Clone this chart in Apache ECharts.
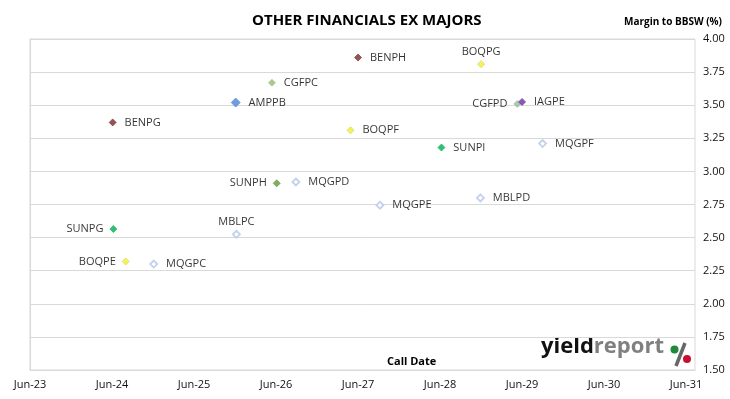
<!DOCTYPE html>
<html>
<head>
<meta charset="utf-8">
<script src="https://cdn.jsdelivr.net/npm/echarts@6/dist/echarts.min.js"></script>
<style>html,body{margin:0;padding:0;background:#fff;}#c{width:730px;height:399px;}</style>
</head>
<body>
<div id="c"></div>
<script>
// ---- data ----
const names = ['BENPH','BOQPG','CGFPC','AMPPB','BENPG','BOQPF','CGFPD','IAGPE','SUNPI','MQGPF','SUNPH','MQGPD','MBLPD','MQGPE','SUNPG','MBLPC','BOQPE','MQGPC'];
const callDates = ['2027-06-01','2028-12-01','2026-05-13','2025-12-04','2024-06-04','2027-04-28','2029-05-10','2029-06-01','2028-06-07','2029-09-01','2026-06-04','2026-08-28','2028-11-28','2027-09-07','2024-06-07','2025-12-07','2024-08-01','2024-12-04'];
const margins = [3.86,3.81,3.67,3.52,3.37,3.31,3.51,3.525,3.18,3.21,2.91,2.92,2.80,2.745,2.565,2.525,2.32,2.30];
const xTickLabels = ['Jun-23','Jun-24','Jun-25','Jun-26','Jun-27','Jun-28','Jun-29','Jun-30','Jun-31'];

// ---- styles (not data) ----
const styleMap = {
  BENPH:{c:'#7B2A2A',b:'#7B2A2A',s:7},
  BENPG:{c:'#7B2A2A',b:'#7B2A2A',s:7},
  BOQPG:{c:'#F4F41C',b:'#C8C88A',s:7,pos:'top'},
  BOQPF:{c:'#F4F41C',b:'#C8C88A',s:7},
  BOQPE:{c:'#F4F41C',b:'#C8C88A',s:7,pos:'left'},
  CGFPC:{c:'#9BBB59',b:'#A9BCC9',s:7},
  CGFPD:{c:'#9BBB8A',b:'#93AFCB',s:7,pos:'left'},
  AMPPB:{c:'#4A86D6',b:'#4A86D6',s:9},
  IAGPE:{c:'#7030A0',b:'#7030A0',s:7},
  SUNPI:{c:'#00B050',b:'#00B050',s:7},
  SUNPG:{c:'#00B050',b:'#00B050',s:7,pos:'left'},
  SUNPH:{c:'#5F9A3C',b:'#5F9A3C',s:7,pos:'left'},
  MQGPF:{c:'#FFFFFF',b:'#B4C6E7',s:7,hollow:true},
  MQGPD:{c:'#FFFFFF',b:'#B4C6E7',s:7,hollow:true},
  MQGPE:{c:'#FFFFFF',b:'#B4C6E7',s:7,hollow:true},
  MQGPC:{c:'#FFFFFF',b:'#B4C6E7',s:7,hollow:true},
  MBLPD:{c:'#FFFFFF',b:'#B4C6E7',s:7,hollow:true},
  MBLPC:{c:'#FFFFFF',b:'#B4C6E7',s:7,hollow:true,pos:'top'}
};
const distByPos = {right:8, left:6, top:3};

// months since Jun-2023
function monthOffset(d){
  const [y,m,dd] = d.split('-').map(Number);
  return (y-2023)*12 + (m-6) + (dd-1)/30;
}

const FONT = '"Open Sans", "DejaVu Sans", sans-serif';
const data = names.map((n,i)=>{
  const st = styleMap[n];
  const pos = st.pos||'right';
  return {
    name:n,
    value:[monthOffset(callDates[i]), margins[i]],
    symbolSize: st.s,
    itemStyle:{color:st.c, borderColor:st.b, borderWidth: st.hollow?1.8:0.8},
    label:{position:pos, distance:distByPos[pos]}
  };
});

const chart = echarts.init(document.getElementById('c'), null, {renderer:'canvas'});
chart.setOption({
  animation:false,
  backgroundColor:'#fff',
  title:[
    {text:'OTHER FINANCIALS EX MAJORS', left:247, top:8, textStyle:{fontFamily:FONT, fontSize:15, fontWeight:'bold', color:'#000'}},
    {text:'Margin to BBSW (%)', right:3, top:12, textStyle:{fontFamily:FONT, fontSize:10, fontWeight:'bold', color:'#000'}}
  ],
  grid:{left:30, right:35, top:39, bottom:29, show:true, borderColor:'#D9D9D9', borderWidth:1},
  xAxis:{
    type:'value', min:0, max:97.3, interval:12,
    axisLine:{show:true, lineStyle:{color:'#D9D9D9'}},
    axisTick:{show:false},
    splitLine:{show:false},
    axisLabel:{margin:9, color:'#111', fontFamily:FONT, fontSize:11,
      showMaxLabel:false,
      formatter:(v)=>{const k=Math.round(v/12); return (Math.abs(v-k*12)<0.01)?xTickLabels[k]:'';}}
  },
  yAxis:{
    type:'value', position:'right', min:1.5, max:4.0, interval:0.25,
    axisLine:{show:true, lineStyle:{color:'#D9D9D9'}},
    axisTick:{show:true, inside:false, length:3, lineStyle:{color:'#D9D9D9'}},
    splitLine:{show:true, lineStyle:{color:'#D9D9D9', width:1}},
    axisLabel:{margin:8, color:'#111', fontFamily:FONT, fontSize:11, formatter:(v)=>v.toFixed(2)}
  },
  series:[{
    type:'scatter',
    symbol:'diamond',
    data:data,
    label:{show:true, formatter:'{b}', color:'#000', fontFamily:FONT, fontSize:11}
  }],
  graphic:[
    {type:'text', left:411-24, top:356, style:{text:'Call Date', fill:'#000', font:'bold 11px '+FONT}},
    {type:'text', left:541, top:336, style:{
      text:'{a|yield}{b|report}', font:'bold 22px '+FONT,
      rich:{a:{fill:'#111', font:'bold 22px '+FONT}, b:{fill:'#808080', font:'bold 22px '+FONT}}
    }},
    {type:'line', shape:{x1:685, y1:343, x2:676, y2:366}, style:{stroke:'#666', lineWidth:3.5}},
    {type:'circle', shape:{cx:674.5, cy:349.5, r:4}, style:{fill:'#1E8A3A'}},
    {type:'circle', shape:{cx:687, cy:359, r:4}, style:{fill:'#C8102E'}}
  ]
});
</script>
</body>
</html>
